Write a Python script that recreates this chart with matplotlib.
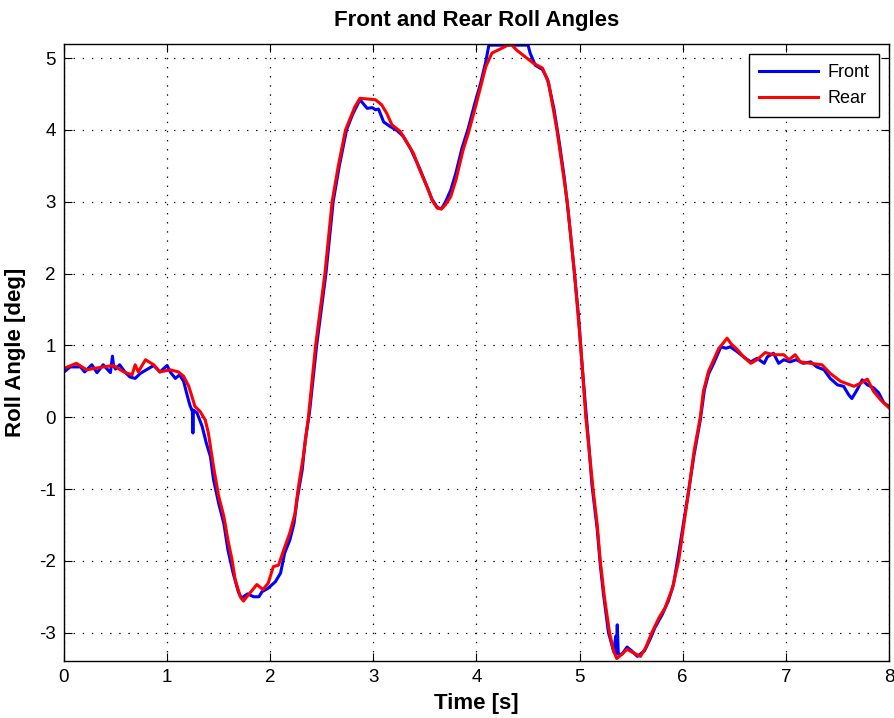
import matplotlib
matplotlib.use("Agg")
import matplotlib.pyplot as plt

# ---------------- data ----------------
t_front = [
    0.00, 0.06, 0.16, 0.20, 0.27, 0.32, 0.38, 0.45, 0.47, 0.48,
    0.50, 0.54, 0.59, 0.64, 0.69, 0.74, 0.80, 0.87, 0.93, 1.00,
    1.03, 1.08, 1.12, 1.16, 1.19, 1.22, 1.245, 1.25, 1.255, 1.29,
    1.34, 1.38, 1.42, 1.45, 1.50, 1.55, 1.59, 1.64, 1.69, 1.72,
    1.78, 1.84, 1.89, 1.92, 1.98, 2.05, 2.10, 2.14, 2.19, 2.23,
    2.26, 2.31, 2.34, 2.38, 2.45, 2.54, 2.61, 2.67, 2.74, 2.80,
    2.87, 2.94, 2.99, 3.02, 3.05, 3.10, 3.16, 3.23, 3.29, 3.36,
    3.45, 3.52, 3.57, 3.62, 3.66, 3.70, 3.75, 3.80, 3.86, 3.92,
    3.98, 4.04, 4.09, 4.12, 4.20, 4.30, 4.40, 4.50, 4.52, 4.57,
    4.64, 4.69, 4.75, 4.80, 4.85, 4.89, 4.94, 4.99, 5.02, 5.06,
    5.09, 5.12, 5.17, 5.20, 5.23, 5.28, 5.33, 5.35, 5.355, 5.365,
    5.375, 5.41, 5.46, 5.51, 5.56, 5.63, 5.69, 5.73, 5.80, 5.86,
    5.91, 5.96, 6.01, 6.06, 6.11, 6.17, 6.21, 6.25, 6.30, 6.37,
    6.42, 6.46, 6.53, 6.59, 6.66, 6.72, 6.79, 6.82, 6.88, 6.93,
    6.98, 7.04, 7.10, 7.17, 7.24, 7.30, 7.37, 7.43, 7.50, 7.56,
    7.61, 7.64, 7.69, 7.74, 7.79, 7.85, 7.90, 7.95, 8.00]
roll_front = [
    0.63, 0.70, 0.70, 0.63, 0.73, 0.62, 0.73, 0.62, 0.85, 0.72,
    0.67, 0.73, 0.63, 0.56, 0.54, 0.61, 0.66, 0.72, 0.63, 0.72,
    0.63, 0.54, 0.59, 0.50, 0.33, 0.17, 0.08, -0.22, 0.10, 0.06,
    -0.13, -0.36, -0.55, -0.87, -1.20, -1.48, -1.85, -2.17, -2.43, -2.52,
    -2.46, -2.50, -2.50, -2.43, -2.38, -2.29, -2.17, -1.89, -1.71, -1.48,
    -1.15, -0.73, -0.32, 0.06, 1.00, 2.00, 3.00, 3.50, 4.00, 4.22,
    4.42, 4.30, 4.31, 4.28, 4.29, 4.11, 4.05, 3.99, 3.91, 3.74,
    3.46, 3.21, 3.03, 2.92, 2.90, 3.00, 3.16, 3.40, 3.75, 4.02,
    4.35, 4.65, 4.95, 5.18, 5.18, 5.18, 5.18, 5.18, 5.07, 4.90,
    4.84, 4.70, 4.30, 3.85, 3.35, 2.85, 2.15, 1.40, 0.80, 0.10,
    -0.40, -0.95, -1.55, -2.05, -2.45, -3.00, -3.26, -3.05, -3.30, -2.89,
    -3.30, -3.30, -3.20, -3.26, -3.33, -3.25, -3.07, -2.93, -2.75, -2.56,
    -2.33, -1.90, -1.45, -1.00, -0.52, -0.04, 0.38, 0.60, 0.75, 0.98,
    0.96, 0.98, 0.91, 0.84, 0.77, 0.82, 0.75, 0.84, 0.89, 0.75,
    0.80, 0.77, 0.80, 0.75, 0.77, 0.70, 0.66, 0.54, 0.45, 0.43,
    0.31, 0.26, 0.38, 0.52, 0.45, 0.41, 0.34, 0.20, 0.15]

t_rear = [
    0.00, 0.12, 0.22, 0.38, 0.48, 0.58, 0.66, 0.69, 0.72, 0.79,
    0.87, 0.93, 1.03, 1.11, 1.16, 1.21, 1.24, 1.27, 1.32, 1.37,
    1.40, 1.43, 1.45, 1.48, 1.50, 1.55, 1.59, 1.63, 1.66, 1.71,
    1.74, 1.79, 1.87, 1.93, 1.98, 2.03, 2.08, 2.13, 2.19, 2.24,
    2.27, 2.32, 2.37, 2.44, 2.49, 2.53, 2.60, 2.66, 2.73, 2.78,
    2.82, 2.87, 2.94, 3.02, 3.08, 3.13, 3.18, 3.26, 3.31, 3.39,
    3.45, 3.52, 3.57, 3.62, 3.66, 3.70, 3.75, 3.80, 3.87, 3.92,
    3.99, 4.04, 4.09, 4.15, 4.25, 4.33, 4.39, 4.47, 4.55, 4.64,
    4.70, 4.78, 4.83, 4.88, 4.95, 5.01, 5.06, 5.13, 5.17, 5.20,
    5.24, 5.29, 5.33, 5.36, 5.41, 5.46, 5.52, 5.59, 5.64, 5.70,
    5.77, 5.83, 5.90, 5.96, 6.06, 6.11, 6.17, 6.20, 6.25, 6.30,
    6.35, 6.38, 6.43, 6.47, 6.53, 6.59, 6.66, 6.72, 6.80, 6.88,
    6.98, 7.03, 7.09, 7.14, 7.24, 7.35, 7.43, 7.53, 7.66, 7.72,
    7.79, 7.85, 7.92, 8.00]
roll_rear = [
    0.68, 0.75, 0.66, 0.70, 0.72, 0.63, 0.59, 0.73, 0.63, 0.80,
    0.73, 0.63, 0.66, 0.63, 0.57, 0.43, 0.29, 0.15, 0.08, -0.04,
    -0.22, -0.50, -0.69, -0.94, -1.10, -1.38, -1.71, -1.99, -2.26, -2.50,
    -2.56, -2.47, -2.33, -2.40, -2.31, -2.08, -2.06, -1.85, -1.61, -1.34,
    -1.00, -0.55, 0.00, 1.00, 1.55, 2.00, 3.00, 3.50, 4.00, 4.18,
    4.32, 4.44, 4.43, 4.42, 4.35, 4.23, 4.07, 3.98, 3.86, 3.67,
    3.44, 3.21, 3.02, 2.91, 2.90, 2.96, 3.07, 3.30, 3.72, 3.95,
    4.32, 4.60, 4.88, 5.07, 5.14, 5.20, 5.11, 5.02, 4.93, 4.86,
    4.65, 4.00, 3.50, 3.00, 2.00, 1.00, 0.00, -1.00, -1.49, -2.00,
    -2.50, -3.00, -3.26, -3.36, -3.30, -3.23, -3.28, -3.33, -3.21, -3.00,
    -2.79, -2.65, -2.38, -2.00, -1.00, -0.47, 0.00, 0.36, 0.64, 0.80,
    0.96, 1.01, 1.10, 1.02, 0.94, 0.84, 0.75, 0.80, 0.90, 0.87,
    0.87, 0.80, 0.87, 0.77, 0.75, 0.73, 0.61, 0.50, 0.43, 0.47,
    0.53, 0.36, 0.24, 0.13]

x_ticks = [0, 1, 2, 3, 4, 5, 6, 7, 8]
y_ticks = [-3, -2, -1, 0, 1, 2, 3, 4, 5]
title = "Front and Rear Roll Angles"
x_label = "Time [s]"
y_label = "Roll Angle [deg]"
series_labels = ["Front", "Rear"]

# ---------------- figure ----------------
plt.rcParams['font.family'] = ['Liberation Sans', 'DejaVu Sans']

fig = plt.figure(figsize=(8.95, 7.18), dpi=100)
ax = fig.add_axes([64 / 895, 1 - 660.7 / 718, 825 / 895, 617 / 718])

ax.plot(t_front, roll_front, color=(0, 0, 1), lw=2.2, label=series_labels[0])
ax.plot(t_rear, roll_rear, color=(1, 0, 0), lw=2.2, label=series_labels[1])

ax.set_xlim(0, 8)
ax.set_ylim(-3.39, 5.2)
ax.set_xticks(x_ticks)
ax.set_yticks(y_ticks)
ax.set_xticklabels([str(v) for v in x_ticks])
ax.set_yticklabels([str(v) for v in y_ticks])

ax.grid(True, color='black', linewidth=0.9, linestyle=(0, (1.1, 6.2)))
ax.set_axisbelow(True)
ax.tick_params(direction='in', top=True, right=True, length=6, width=0.8,
               labelsize=13.5, pad=6, colors='black')
for s in ax.spines.values():
    s.set_linewidth(1.0)

ax.set_title(title, fontsize=16, fontweight='bold', pad=13)
ax.set_xlabel(x_label, fontsize=16, fontweight='bold', labelpad=5)
ax.set_ylabel(y_label, fontsize=16, fontweight='bold', labelpad=9)

leg = ax.legend(loc='upper right', bbox_to_anchor=(0.988, 0.983),
                fontsize=13, frameon=True, fancybox=False, framealpha=1,
                edgecolor='black', handlelength=3.3, borderaxespad=0,
                borderpad=0.55, labelspacing=0.5, handletextpad=0.5)
leg.get_frame().set_linewidth(1.0)

fig.savefig("out.png", dpi=100)
